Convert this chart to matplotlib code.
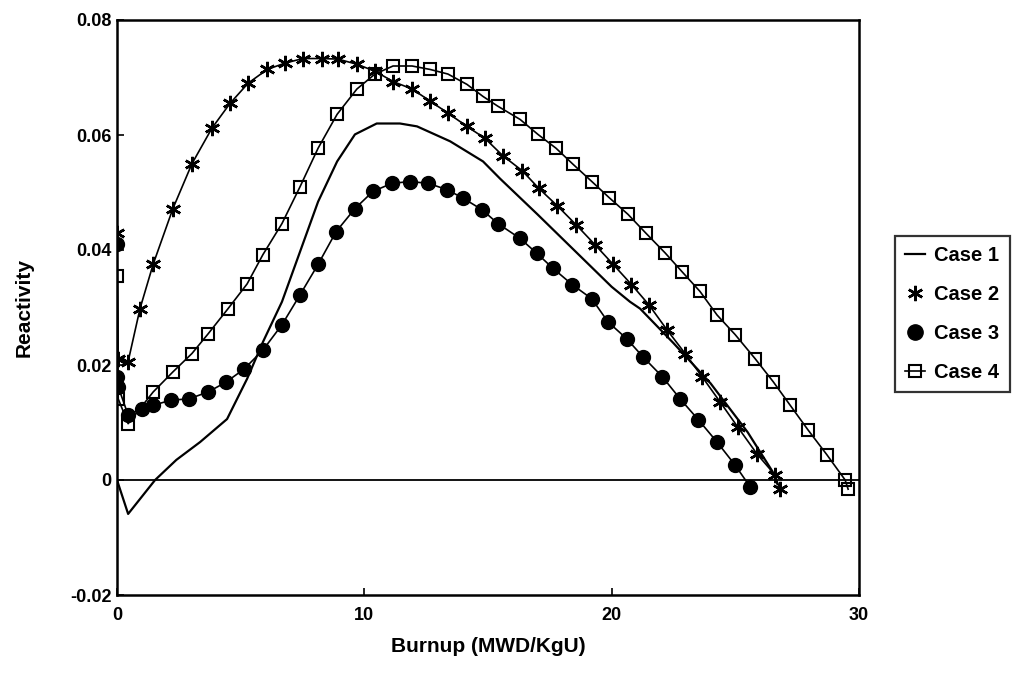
"""Reactivity vs burnup for four cases."""
import matplotlib
matplotlib.use("Agg")
import matplotlib.pyplot as plt
from matplotlib.lines import Line2D

plt.rcParams["font.family"] = ["Liberation Sans", "DejaVu Sans"]
plt.rcParams["font.weight"] = "bold"

# Case 1: plain line
case1_x = [0.0, 0.45, 1.54, 2.4, 3.36, 4.45, 5.26, 5.9, 6.67, 7.4, 8.13, 8.9, 9.62,
           10.5, 11.44, 12.13, 13.47, 14.8, 15.49, 17.0, 18.5, 20.0, 20.74, 21.15,
           22.5, 24.0, 25.5, 26.5, 26.7]
case1_y = [0.0, -0.0059, 0.0, 0.0035, 0.0066, 0.0106, 0.0176, 0.024, 0.031, 0.0397,
           0.0484, 0.0554, 0.0601, 0.062, 0.062, 0.0615, 0.0589, 0.0554, 0.0524,
           0.0462, 0.0399, 0.0336, 0.031, 0.0298, 0.0238, 0.0168, 0.0083, 0.0015, -0.0007]

# Case 2: asterisks
case2_x = [0.0, 0.05, 0.45, 0.93, 1.46, 2.26, 3.03, 3.84, 4.57, 5.3, 6.07, 6.79, 7.52,
           8.29, 8.94, 9.7, 10.43, 11.16, 11.93, 12.66, 13.38, 14.15, 14.88, 15.6,
           16.38, 17.06, 17.8, 18.56, 19.33, 20.06, 20.8, 21.5, 22.24, 22.97, 23.65,
           24.38, 25.1, 25.88, 26.6, 26.8]
case2_y = [0.043, 0.021, 0.0206, 0.0298, 0.0375, 0.0472, 0.055, 0.0612, 0.0655, 0.069,
           0.0714, 0.0725, 0.0733, 0.0733, 0.0732, 0.0723, 0.0711, 0.0693, 0.068,
           0.0659, 0.0638, 0.0615, 0.0594, 0.0564, 0.0538, 0.0507, 0.0477, 0.0444,
           0.0409, 0.0375, 0.034, 0.0305, 0.0261, 0.022, 0.018, 0.0136, 0.0092,
           0.0045, 0.0009, -0.0016]

# Case 3: filled circles
case3_x = [0.0, 0.02, 0.05, 0.45, 1.0, 1.46, 2.2, 2.9, 3.68, 4.4, 5.14, 5.9, 6.67,
           7.4, 8.13, 8.86, 9.62, 10.35, 11.12, 11.85, 12.58, 13.34, 14.0, 14.76,
           15.4, 16.3, 16.98, 17.63, 18.4, 19.2, 19.85, 20.6, 21.27, 22.04, 22.77,
           23.5, 24.26, 24.99, 25.6]
case3_y = [0.041, 0.018, 0.0162, 0.0113, 0.0124, 0.013, 0.0139, 0.0141, 0.0153, 0.017,
           0.0193, 0.0226, 0.027, 0.0322, 0.0375, 0.0432, 0.0472, 0.0502, 0.0516,
           0.0519, 0.0516, 0.0505, 0.049, 0.047, 0.0446, 0.042, 0.0394, 0.0368,
           0.034, 0.0315, 0.0275, 0.0246, 0.0214, 0.018, 0.0141, 0.0105, 0.0066,
           0.0026, -0.0012]

# Case 4: open squares
case4_x = [0.0, 0.05, 0.45, 1.46, 2.26, 3.03, 3.68, 4.49, 5.26, 5.9, 6.67, 7.4, 8.13,
           8.9, 9.7, 10.43, 11.16, 11.93, 12.66, 13.38, 14.15, 14.8, 15.4, 16.3,
           17.02, 17.75, 18.44, 19.2, 19.9, 20.66, 21.39, 22.16, 22.85, 23.57, 24.26,
           24.99, 25.8, 26.53, 27.2, 27.94, 28.7, 29.44, 29.56]
case4_y = [0.0354, 0.0141, 0.0098, 0.0153, 0.0188, 0.022, 0.0254, 0.0298, 0.0341,
           0.0392, 0.0446, 0.051, 0.0577, 0.0636, 0.068, 0.0706, 0.072, 0.072, 0.0714,
           0.0706, 0.0688, 0.0667, 0.065, 0.0627, 0.0601, 0.0577, 0.0549, 0.0519,
           0.0491, 0.0462, 0.0429, 0.0395, 0.0362, 0.0328, 0.0287, 0.0253, 0.0211,
           0.0171, 0.0131, 0.0087, 0.0044, 0.0, -0.0016]

x_ticks = [0, 10, 20, 30]
y_ticks = [-0.02, 0.0, 0.02, 0.04, 0.06, 0.08]
y_tick_labels = ["-0.02", "0", "0.02", "0.04", "0.06", "0.08"]
labels = ["Case 1", "Case 2", "Case 3", "Case 4"]

fig = plt.figure(figsize=(10.16, 6.73), dpi=100)
ax = fig.add_axes([117 / 1016, 1 - 595 / 673, (859 - 117) / 1016, (595 - 20) / 673])

ax.axhline(0, color="black", lw=1.3, zorder=1)
ax.plot(case1_x, case1_y, color="black", lw=1.6, zorder=2)
ax.plot(case2_x, case2_y, color="black", lw=1.2, marker=(6, 2, 0), ms=11,
        mew=1.8, zorder=3)
ax.plot(case3_x, case3_y, color="black", lw=1.2, marker="o", ms=10, zorder=3)
ax.plot(case4_x, case4_y, color="black", lw=1.2, marker="s", ms=9,
        mfc="none", mew=1.5, zorder=3)

ax.set_xlim(0, 30)
ax.set_ylim(-0.02, 0.08)
ax.set_xticks(x_ticks)
ax.set_xticklabels([str(t) for t in x_ticks])
ax.set_yticks(y_ticks)
ax.set_yticklabels(y_tick_labels)
ax.tick_params(direction="in", length=5, width=1.2, labelsize=13, pad=4)
ax.tick_params(axis="x", pad=9)
for s in ax.spines.values():
    s.set_linewidth(1.8)

ax.set_xlabel("Burnup (MWD/KgU)", fontsize=15, fontweight="bold", labelpad=9)
ax.set_ylabel("Reactivity", fontsize=15, fontweight="bold", labelpad=26)

handles = [
    Line2D([0], [0], color="black", lw=1.6),
    Line2D([0], [0], color="black", lw=0, marker=(6, 2, 0), ms=11, mew=1.8),
    Line2D([0], [0], color="black", lw=0, marker="o", ms=11),
    Line2D([0], [0], color="black", lw=1.2, marker="s", ms=9, mfc="none", mew=1.5),
]
leg = fig.legend(handles, labels, loc="upper left", bbox_to_anchor=(0.881, 0.650),
                 bbox_transform=fig.transFigure, fontsize=14.5, frameon=True,
                 fancybox=False, edgecolor="black", handlelength=1.0,
                 handletextpad=0.45, labelspacing=1.0, borderpad=0.5,
                 borderaxespad=0)
leg.get_frame().set_linewidth(1.6)

fig.savefig("out.png", dpi=100)
